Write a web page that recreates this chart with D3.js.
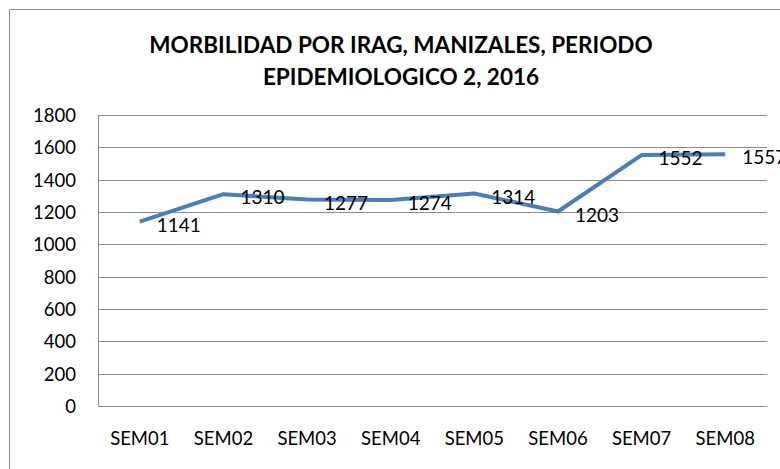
<!DOCTYPE html>
<meta charset="utf-8">
<style>
body { margin: 0; background: #fff; }
.grid line { stroke: #8c8c8c; stroke-width: 1; shape-rendering: crispEdges; }
.axis path, .axis line { stroke: #8c8c8c; shape-rendering: crispEdges; }
.axis text { font-family: Lato, "Open Sans", sans-serif; font-size: 18.5px; fill: #000; }
.title { font-family: Lato, "Open Sans", sans-serif; font-weight: bold; font-size: 22.5px; text-anchor: middle; }
.label { font-family: Lato, "Open Sans", sans-serif; font-size: 19px; fill: #000; }
</style>
<body>
<script src="https://cdn.jsdelivr.net/npm/d3@7"></script>
<script>
// data
var weeks = ["SEM01", "SEM02", "SEM03", "SEM04", "SEM05", "SEM06", "SEM07", "SEM08"];
var cases = [1141, 1310, 1277, 1274, 1314, 1203, 1552, 1557];
var yTicks = [0, 200, 400, 600, 800, 1000, 1200, 1400, 1600, 1800];
var titleLines = ["MORBILIDAD POR IRAG, MANIZALES, PERIODO", "EPIDEMIOLOGICO 2, 2016"];

var W = 780, H = 469;
var margin = {top: 115, right: 13, bottom: 63, left: 98},
    width = W - margin.left - margin.right,
    height = H - margin.top - margin.bottom;

var svg = d3.select("body").append("svg")
    .attr("width", W)
    .attr("height", H);

// outer chart frame
svg.append("rect")
    .attr("x", 9.5).attr("y", 9.5)
    .attr("width", W + 20).attr("height", H + 20)
    .attr("fill", "#fff")
    .attr("stroke", "#8c8c8c")
    .attr("stroke-width", 1);

// title
svg.append("text")
    .attr("class", "title")
    .attr("x", 401)
    .attr("y", 53)
  .selectAll("tspan")
    .data(titleLines)
  .enter().append("tspan")
    .attr("x", 401)
    .attr("dy", function(d, i) { return i ? 32 : 0; })
    .text(function(d) { return d; });

var g = svg.append("g")
    .attr("transform", "translate(" + margin.left + "," + margin.top + ")");

var x = d3.scaleBand().domain(weeks).range([0, width]);
var y = d3.scaleLinear().domain([0, 1800]).range([height, 0]);

// horizontal gridlines
g.append("g")
    .attr("class", "grid")
  .selectAll("line")
    .data(yTicks)
  .enter().append("line")
    .attr("x1", 0).attr("x2", width)
    .attr("y1", function(d) { return Math.round(y(d)) + 0.5; })
    .attr("y2", function(d) { return Math.round(y(d)) + 0.5; });

// y axis
var yAxis = g.append("g")
    .attr("class", "axis")
    .call(d3.axisLeft(y).tickValues(yTicks).tickFormat(d3.format("d")).tickSize(0).tickPadding(22));
yAxis.selectAll("text").attr("dy", "0.35em");

// x axis
var xAxis = g.append("g")
    .attr("class", "axis")
    .attr("transform", "translate(0," + height + ")")
    .call(d3.axisBottom(x).tickSize(0).tickPadding(26));
xAxis.select(".domain").remove();

// the line
var line = d3.line()
    .x(function(d, i) { return x(weeks[i]) + x.bandwidth() / 2; })
    .y(function(d) { return y(d); });

g.append("path")
    .datum(cases)
    .attr("fill", "none")
    .attr("stroke", "#4a7ebb")
    .attr("stroke-width", 4)
    .attr("stroke-linejoin", "round")
    .attr("d", line);

// data labels to the right of each point
g.selectAll(".label")
    .data(cases)
  .enter().append("text")
    .attr("class", "label")
    .attr("x", function(d, i) { return x(weeks[i]) + x.bandwidth() / 2 + 17; })
    .attr("y", function(d) { return y(d) + 10; })
    .text(function(d) { return d; });
</script>
</body>
